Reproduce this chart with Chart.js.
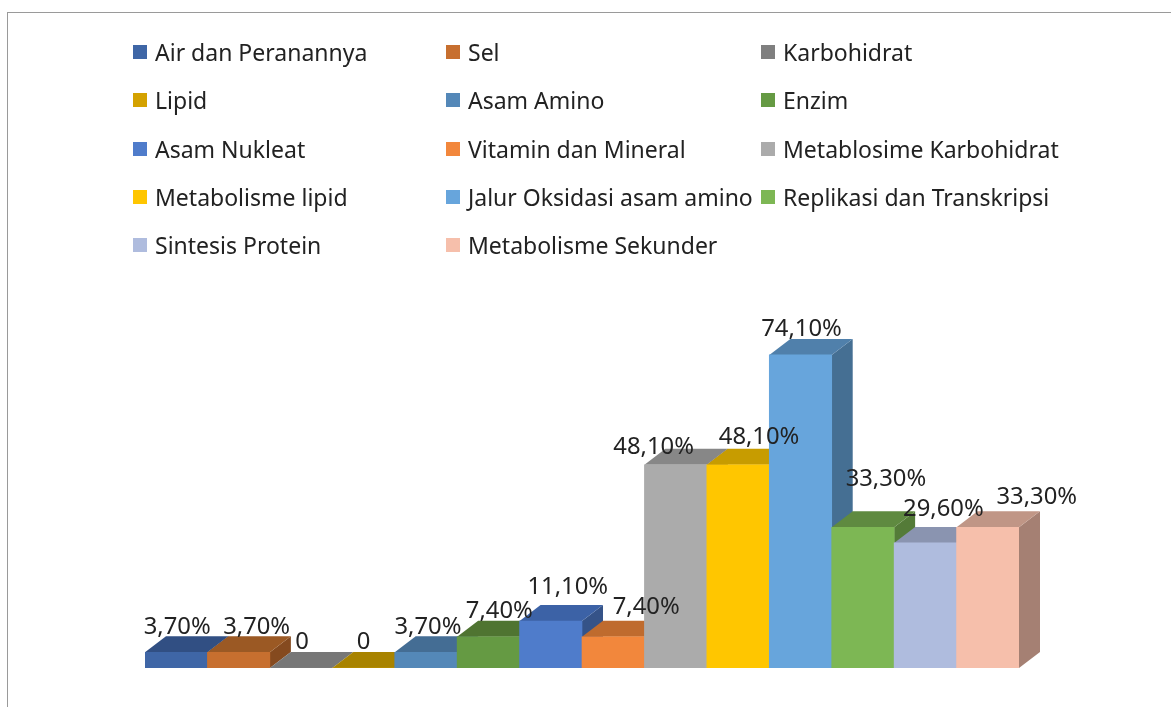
<!DOCTYPE html>
<html lang="id">
<head>
    <meta charset="UTF-8">
    <title>Persentase Materi</title>
    <script src="https://cdn.jsdelivr.net/npm/chart.js"></script>
    <style>
        html, body { margin: 0; padding: 0; background: #fff; overflow: hidden; }
        #wrap { position: relative; width: 1171px; height: 707px; }
        #frame {
            position: absolute; left: 7px; top: 12px; right: 0; bottom: 0;
            border-top: 1px solid #9a9a9a; border-left: 1px solid #9a9a9a;
        }
        #chart { position: absolute; left: 0; top: 0; }
        #legend {
            position: absolute; left: 133px; top: 28px;
            display: grid; grid-template-columns: 313px 315px 340px; grid-auto-rows: 48.3px;
            font: 23px "Noto Sans", sans-serif; color: #222;
        }
        .item { display: flex; align-items: center; white-space: nowrap; }
        .swatch { width: 14px; height: 14px; margin-right: 8px; flex: none; }
    </style>
</head>
<body>
    <div id="wrap">
        <div id="frame"></div>
        <canvas id="chart" width="1171" height="707"></canvas>
        <div id="legend"></div>
    </div>

    <script>
        const categories = [
            'Air dan Peranannya', 'Sel', 'Karbohidrat', 'Lipid', 'Asam Amino', 'Enzim', 'Asam Nukleat',
            'Vitamin dan Mineral', 'Metablosime Karbohidrat', 'Metabolisme lipid', 'Jalur Oksidasi asam amino',
            'Replikasi dan Transkripsi', 'Sintesis Protein', 'Metabolisme Sekunder'
        ];
        const percentages = [3.7, 3.7, 0, 0, 3.7, 7.4, 11.1, 7.4, 48.1, 48.1, 74.1, 33.3, 29.6, 33.3];
        const barColors = [
            '#3f66a6', '#c76f2f', '#7f7f7f', '#d4a200', '#5488b8', '#659a43', '#4f7ccb',
            '#f2873c', '#ababab', '#ffc600', '#67a5dc', '#7db754', '#afbcde', '#f6bfab'
        ];
        const topColors = [
            '#314f83', '#9b5924', '#777777', '#a88300', '#446d94', '#4f7431', '#3c62a6',
            '#bf6b2e', '#878787', '#c79c00', '#5080ab', '#5f8a40', '#8a94b0', '#c09686'
        ];

        // data labels were dragged by hand in the original, so nudge them per bar
        const labelNudgeX = [1, 18, 1, 0, 2, 11, 17, 33, -22, 21, 1, 23, 18, 49];
        const labelNudgeY = [0, 0, 0, 0, 0, 0, -8, -4, 8, -2, 0, -23, -8, -5];
        const depthX = 21;
        const depthY = 16;

        function shade(hex, factor) {
            const n = parseInt(hex.slice(1), 16);
            const r = Math.round((n >> 16) * factor);
            const g = Math.round(((n >> 8) & 255) * factor);
            const b = Math.round((n & 255) * factor);
            return `rgb(${r}, ${g}, ${b})`;
        }

        function fillPoly(ctx, color, points) {
            ctx.fillStyle = color;
            ctx.beginPath();
            points.forEach(([x, y], i) => (i ? ctx.lineTo(x, y) : ctx.moveTo(x, y)));
            ctx.closePath();
            ctx.fill();
        }

        // Top and side faces go underneath the flat bars, left to right
        const depthFaces = {
            id: 'depthFaces',
            beforeDatasetsDraw(chart) {
                const ctx = chart.ctx;
                const base = chart.scales.y.getPixelForValue(0);
                chart.getDatasetMeta(0).data.forEach((bar, i) => {
                    const left = bar.x - bar.width / 2;
                    const right = bar.x + bar.width / 2;
                    const top = bar.y;
                    fillPoly(ctx, shade(barColors[i], 0.67), [
                        [right, top], [right + depthX, top - depthY],
                        [right + depthX, base - depthY], [right, base]
                    ]);
                    fillPoly(ctx, topColors[i], [
                        [left, top], [left + depthX, top - depthY],
                        [right + depthX, top - depthY], [right, top]
                    ]);
                });
            }
        };

        const valueLabels = {
            id: 'valueLabels',
            afterDatasetsDraw(chart) {
                const ctx = chart.ctx;
                ctx.save();
                ctx.font = '23.8px "Noto Sans", sans-serif';
                ctx.fillStyle = '#222';
                ctx.textAlign = 'center';
                ctx.textBaseline = 'middle';
                chart.getDatasetMeta(0).data.forEach((bar, i) => {
                    const v = percentages[i];
                    const text = v === 0 ? '0' : v.toFixed(2).replace('.', ',') + '%';
                    ctx.fillText(text, bar.x + labelNudgeX[i], bar.y - 25.5 + labelNudgeY[i]);
                });
                ctx.restore();
            }
        };

        new Chart(document.getElementById('chart'), {
            type: 'bar',
            data: {
                labels: categories,
                datasets: [{
                    data: percentages,
                    backgroundColor: barColors,
                    categoryPercentage: 1,
                    barPercentage: 1,
                    borderWidth: 0
                }]
            },
            options: {
                responsive: false,
                animation: false,
                layout: { padding: { left: 145, right: 152, top: 330, bottom: 39 } },
                plugins: { legend: { display: false }, tooltip: { enabled: false } },
                scales: {
                    x: { display: false },
                    y: { display: false, min: 0, max: 80 }
                }
            },
            plugins: [depthFaces, valueLabels]
        });

        const legend = document.getElementById('legend');
        categories.forEach((name, i) => {
            const item = document.createElement('div');
            item.className = 'item';
            item.innerHTML = `<span class="swatch" style="background:${barColors[i]}"></span><span>${name}</span>`;
            legend.appendChild(item);
        });
    </script>
</body>
</html>
